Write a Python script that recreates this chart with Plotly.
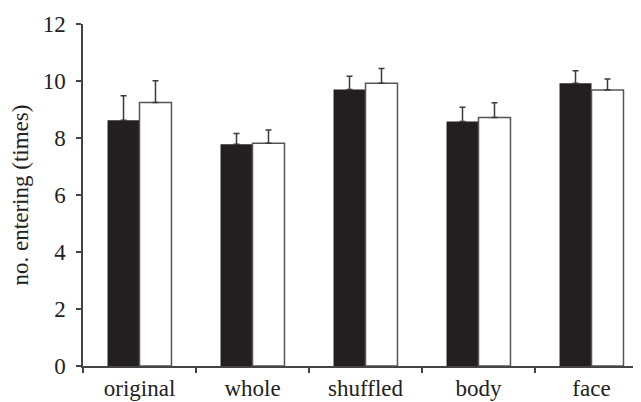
import plotly.graph_objects as go

categories = ["original", "whole", "shuffled", "body", "face"]
black_values = [8.62, 7.78, 9.70, 8.58, 9.92]
black_err = [0.86, 0.38, 0.47, 0.50, 0.44]
white_values = [9.25, 7.82, 9.92, 8.72, 9.68]
white_err = [0.76, 0.46, 0.52, 0.52, 0.39]
y_ticks = [0, 2, 4, 6, 8, 10, 12]

fig = go.Figure()
fig.add_trace(go.Bar(
    x=categories, y=black_values,
    marker=dict(color="#231f20", line=dict(width=0)),
    error_y=dict(type="data", symmetric=False, array=black_err,
                 arrayminus=[0] * len(black_err), color="#3a3a3a",
                 thickness=1.5, width=3),
    showlegend=False,
))
fig.add_trace(go.Bar(
    x=categories, y=white_values,
    marker=dict(color="white", line=dict(color="#555555", width=1.5)),
    error_y=dict(type="data", symmetric=False, array=white_err,
                 arrayminus=[0] * len(white_err), color="#3a3a3a",
                 thickness=1.5, width=3),
    showlegend=False,
))

fig.update_layout(
    width=633, height=394,
    margin=dict(l=75, r=0, t=16, b=36, autoexpand=False),
    paper_bgcolor="white", plot_bgcolor="white",
    barmode="group", bargap=0.434, bargroupgap=0,
    font=dict(family="Liberation Serif", size=22, color="#222222"),
    xaxis=dict(
        type="category", range=[-0.5, 4.438], tickson="boundaries",
        ticks="outside", ticklen=5, tickwidth=1.5, tickcolor="#444444",
        showline=True, linecolor="#444444", linewidth=1.5,
        showgrid=False, zeroline=False, ticklabelstandoff=1,
        tickfont=dict(size=23),
    ),
    yaxis=dict(
        range=[0, 12], tickvals=y_ticks,
        ticks="outside", ticklen=5, tickwidth=1.5, tickcolor="#444444",
        showline=True, linecolor="#444444", linewidth=1.5,
        showgrid=False, zeroline=False, ticklabelstandoff=6,
        tickfont=dict(size=23),
        title=dict(text="no. entering (times)", standoff=9,
                   font=dict(size=23)),
    ),
)

fig.write_html("out.html")
